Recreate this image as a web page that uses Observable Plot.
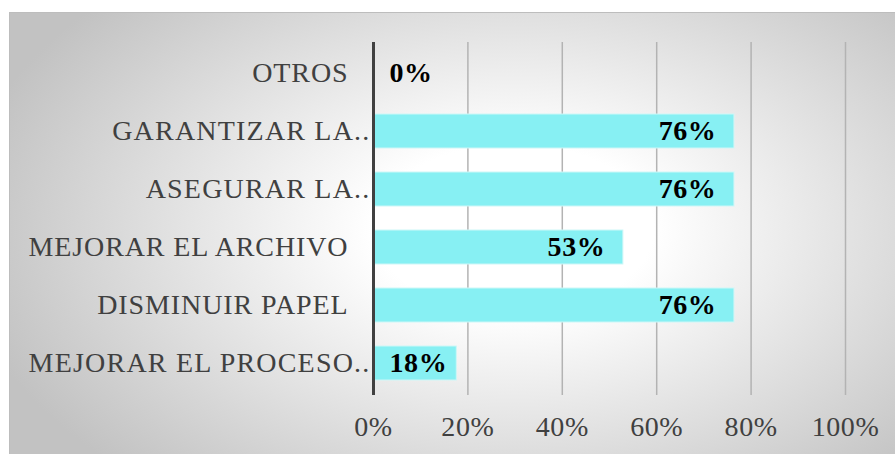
<!DOCTYPE html>
<html>
<head>
<meta charset="utf-8">
<script src="https://cdn.jsdelivr.net/npm/d3@7"></script>
<script src="https://cdn.jsdelivr.net/npm/@observablehq/plot@0.6"></script>
<style>
  html, body { margin: 0; padding: 0; background: #ffffff; }
  #wrap { position: relative; width: 895px; height: 454px; overflow: hidden; }
  #bg {
    position: absolute; left: 9px; top: 12px; width: 900px; height: 450px;
    border-top: 1px solid #bdbdbd; border-left: 1px solid #bdbdbd;
    background: radial-gradient(ellipse 62% 75% at 56% 48%, #ffffff 0%, #ffffff 25%, #c2c2c2 100%);
  }
  #chart { position: absolute; left: 0; top: 0; }
  #chart svg { background: transparent; overflow: visible; }
  .ylab text { letter-spacing: 0.9px; }
  .ylabt text { letter-spacing: 1.2px; }
  .xlab text { letter-spacing: 0.6px; }
  .vlab text { letter-spacing: 0.6px; }
</style>
</head>
<body>
<div id="wrap"><div id="bg"></div><div id="chart"></div></div>
<script>
const categories = ["OTROS", "GARANTIZAR LA..", "ASEGURAR LA..", "MEJORAR EL ARCHIVO", "DISMINUIR PAPEL", "MEJORAR EL PROCESO.."];
const values = [0, 76.47, 76.47, 52.94, 76.47, 17.65];
const xTicks = [0, 20, 40, 60, 80, 100];

const data = categories.map((c, i) => ({category: c, value: values[i], label: Math.round(values[i]) + "%"}));
const truncated = categories.filter(c => c.endsWith(".."));
const full = categories.filter(c => !c.endsWith(".."));

const font = "'Liberation Serif', 'Times New Roman', serif";

const chart = Plot.plot({
  width: 895,
  height: 454,
  marginLeft: 373,
  marginRight: 50,
  marginTop: 42,
  marginBottom: 59,
  style: {fontFamily: font, background: "transparent"},
  x: {domain: [0, 100]},
  y: {domain: categories, paddingInner: 0.41, paddingOuter: 0.205},
  marks: [
    Plot.ruleX(xTicks.filter(t => t > 0), {stroke: "#b3b3b3", strokeWidth: 1.5}),
    Plot.barX(data, {x: "value", y: "category", fill: "#87f0f3", stroke: "#cdf7f7", strokeWidth: 1}),
    Plot.ruleX([0], {stroke: "#404040", strokeWidth: 3}),
    Plot.text(data.filter(d => d.value >= 30), {x: "value", y: "category", text: "label", textAnchor: "end", dx: -18, fontSize: 28, fontWeight: "bold", fill: "#000", className: "vlab"}),
    Plot.text(data.filter(d => d.value < 30), {x: 0, y: "category", text: "label", textAnchor: "start", dx: 16, fontSize: 28, fontWeight: "bold", fill: "#000", className: "vlab"}),
    Plot.axisX({ticks: xTicks, tickFormat: d => d + "%", tickSize: 0, tickPadding: 21, fontSize: 28, color: "#404040", label: null, className: "xlab"}),
    Plot.axisY({ticks: truncated, tickSize: 0, tickPadding: 3, fontSize: 28, color: "#404040", label: null, className: "ylabt"}),
    Plot.axisY({ticks: full, tickSize: 0, tickPadding: 25, fontSize: 28, color: "#404040", label: null, className: "ylab"})
  ]
});
document.getElementById("chart").appendChild(chart);
</script>
</body>
</html>
